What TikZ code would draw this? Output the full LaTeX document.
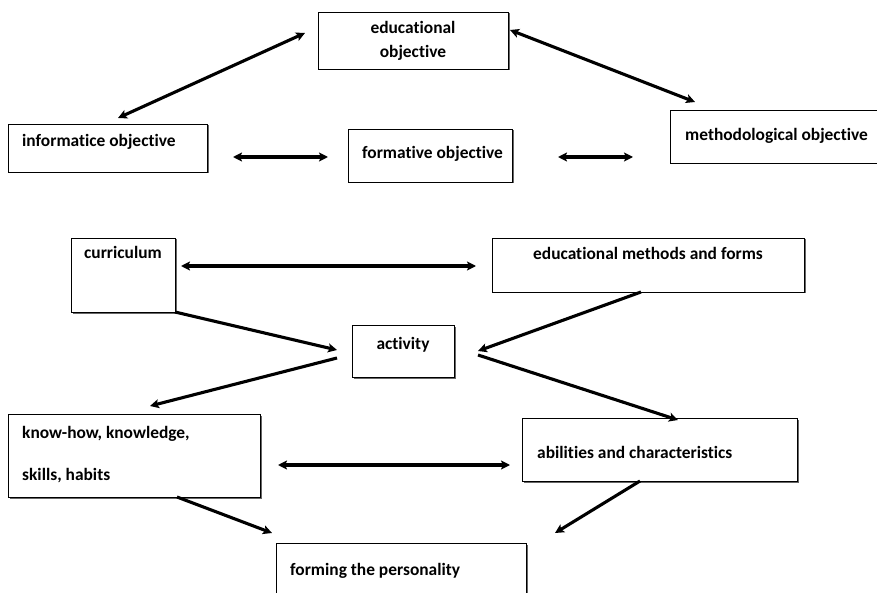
\documentclass[tikz,border=0pt]{standalone}
\usepackage{fontspec}
\setmainfont[RawFeature={-liga;-clig;-dlig}]{Carlito}
\usetikzlibrary{arrows.meta,shadows}
\begin{document}
\begin{tikzpicture}[x=1pt,y=-1pt,
  box/.style={draw=black, line width=0.9pt, fill=white, inner sep=0pt,
    drop shadow={shadow xshift=1.5pt, shadow yshift=-1.5pt, fill=black!60, opacity=1}},
  txt/.style={font=\bfseries\fontsize{17.4}{24}\selectfont, inner sep=0pt},
  tip/.tip={Stealth[length=9pt,width=9pt,inset=2pt]},
  conn/.style={line width=3.1pt, tip-tip},
  oneway/.style={line width=3.1pt, -tip}]
\useasboundingbox (0,0) rectangle (877,593);
% boxes
\node[box, minimum width=190, minimum height=57] (edu) at (413,40.5) {};
\node[box, minimum width=199, minimum height=48] (inf) at (107.5,148) {};
\node[box, minimum width=164, minimum height=53] (form) at (430,155.5) {};
\node[box, minimum width=214, minimum height=53] (meth) at (777,136.5) {};
\node[box, minimum width=104, minimum height=74] (curr) at (123,275) {};
\node[box, minimum width=312, minimum height=54] (mf) at (648,265) {};
\node[box, minimum width=102, minimum height=52] (act) at (403,351) {};
\node[box, minimum width=252, minimum height=83] (know) at (134,455.5) {};
\node[box, minimum width=275, minimum height=63] (abil) at (659.5,449.5) {};
\node[box, minimum width=250, minimum height=60] (pers) at (401,573) {};
% texts
\node[txt, align=center] (edu-t) at (413,41) {educational\\objective};
\node[txt, anchor=west] (inf-t) at (22,142) {informatice objective};
\node[txt, anchor=west] (form-t) at (362,154) {formative objective};
\node[txt, anchor=west] (meth-t) at (685,136) {methodological objective};
\node[txt, anchor=west] (curr-t) at (84,252) {curriculum};
\node[txt] (mf-t) at (648,253) {educational methods and forms};
\node[txt] (act-t) at (403,345) {activity};
\node[txt, anchor=west, align=left] (know-t) at (22,455) {know-how, knowledge,\\[18pt]skills, habits};
\node[txt, anchor=west] (abil-t) at (537,452) {abilities and characteristics};
\node[txt, anchor=west] (pers-t) at (290,571) {forming the personality};
% connector end points
\coordinate (a1) at (305,33); \coordinate (a2) at (118,118);
\coordinate (b1) at (510,30); \coordinate (b2) at (695,102);
\coordinate (c1) at (233,157); \coordinate (c2) at (328,157);
\coordinate (d1) at (558,157); \coordinate (d2) at (633,157);
\coordinate (e1) at (181,266); \coordinate (e2) at (476,266);
\coordinate (f1) at (175,312); \coordinate (f2) at (337,350);
\coordinate (g1) at (641,292); \coordinate (g2) at (478,351);
\coordinate (h1) at (337,358); \coordinate (h2) at (150,406);
\coordinate (i1) at (478,355); \coordinate (i2) at (678,420);
\coordinate (j1) at (278,465); \coordinate (j2) at (510,465);
\coordinate (k1) at (177,497); \coordinate (k2) at (272,533);
\coordinate (l1) at (640,481); \coordinate (l2) at (555,533);
% connectors
\draw[conn] (a1) -- (a2);
\draw[conn] (b1) -- (b2);
\draw[conn] (c1) -- (c2);
\draw[conn] (d1) -- (d2);
\draw[conn] (e1) -- (e2);
\draw[oneway] (f1) -- (f2);
\draw[oneway] (g1) -- (g2);
\draw[oneway] (h1) -- (h2);
\draw[oneway] (i1) -- (i2);
\draw[conn] (j1) -- (j2);
\draw[oneway] (k1) -- (k2);
\draw[oneway] (l1) -- (l2);
\end{tikzpicture}
\end{document}
